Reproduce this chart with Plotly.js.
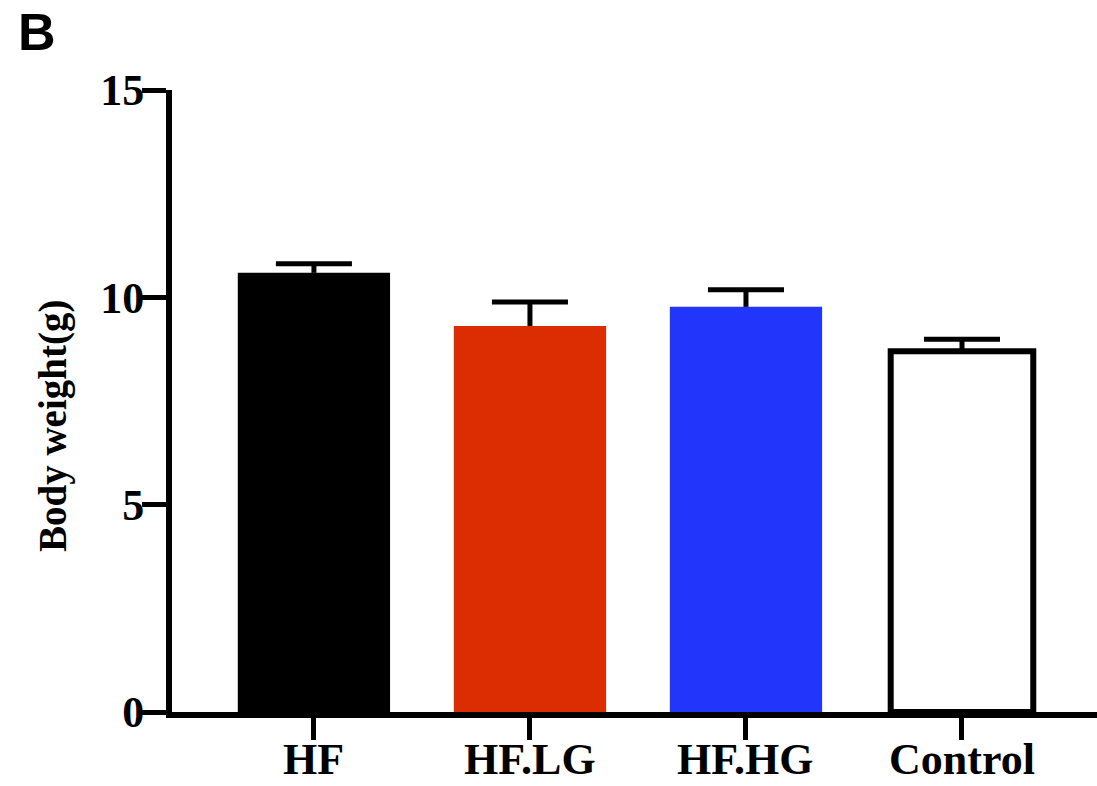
<!DOCTYPE html>
<html>
<head>
<meta charset="utf-8">
<script src="https://cdn.plot.ly/plotly-3.0.1.min.js"></script>
<style>
  html, body { margin: 0; padding: 0; background: #ffffff; }
  #chart { width: 1097px; height: 786px; }
</style>
</head>
<body>
<div id="chart"></div>
<script>
// ---- data ----
const categories = ['HF', 'HF.LG', 'HF.HG', 'Control'];
const meanWeight = [10.59, 9.31, 9.77, 8.70];
const semWeight = [0.22, 0.58, 0.41, 0.29];
const yTickValues = [0, 5, 10, 15];
const yTickLabels = ['0', '5', '10', '15'];

// ---- styles ----
const fillColors = ['#000000', '#dc2c02', '#2236fb', '#ffffff'];
const barWidths = [0.705, 0.705, 0.705, 0.66];
const outlineWidths = [0, 0, 0, 6];
const capHalf = 0.176; // half cap width in category units

const W = 1097, H = 786;
const M = { l: 172, r: 0, t: 90, b: 74 };
const plotW = W - M.l - M.r, plotH = H - M.t - M.b;
const px2x = px => (px - M.l) / plotW;
const px2y = py => (H - M.b - py) / plotH;

const xIdx = categories.map((c, i) => i);

const bars = {
  type: 'bar',
  x: xIdx,
  y: meanWeight,
  width: barWidths,
  marker: {
    color: fillColors,
    line: { color: '#000000', width: outlineWidths }
  },
  hoverinfo: 'none'
};

// upward-only SEM bars (stem + cap), built from the data
const ex = [], ey = [];
xIdx.forEach((xi, i) => {
  const top = meanWeight[i] + semWeight[i];
  ex.push(xi, xi, null, xi - capHalf, xi + capHalf, null);
  ey.push(meanWeight[i], top, null, top, top, null);
});
const errBars = {
  type: 'scatter', mode: 'lines',
  x: ex, y: ey,
  line: { color: '#000000', width: 5 },
  connectgaps: false,
  hoverinfo: 'none'
};

const serifBold = { family: 'Liberation Serif, Times New Roman, serif', color: '#000000', weight: 'bold' };

const xLabelAnn = categories.map((c, i) => ({
  text: c,
  xref: 'x', yref: 'paper',
  x: i, y: px2y(759),
  xanchor: 'center', yanchor: 'middle',
  showarrow: false,
  font: Object.assign({ size: 44 }, serifBold)
}));

const layout = {
  width: W, height: H,
  margin: M,
  paper_bgcolor: '#ffffff',
  plot_bgcolor: '#ffffff',
  showlegend: false,
  xaxis: {
    range: [-0.657, 3.625],
    tickmode: 'array',
    tickvals: xIdx,
    showticklabels: false,
    showline: true, linecolor: '#000000', linewidth: 6,
    ticks: 'outside', ticklen: 22, tickwidth: 5, tickcolor: '#000000',
    showgrid: false, zeroline: false,
    fixedrange: true
  },
  yaxis: {
    range: [0, 15],
    tickmode: 'array',
    tickvals: yTickValues,
    ticktext: yTickLabels,
    showline: true, linecolor: '#000000', linewidth: 6,
    ticks: 'outside', ticklen: 24, tickwidth: 5, tickcolor: '#000000',
    ticklabelstandoff: -11,
    showgrid: false, zeroline: false,
    tickfont: Object.assign({ size: 44 }, serifBold),
    fixedrange: true
  },
  annotations: xLabelAnn.concat([
    {
      text: 'Body weight(g)',
      xref: 'paper', yref: 'paper',
      x: px2x(53), y: px2y(426),
      xanchor: 'center', yanchor: 'middle',
      textangle: -90, showarrow: false,
      font: Object.assign({ size: 39 }, serifBold)
    },
    {
      text: 'B',
      xref: 'paper', yref: 'paper',
      x: px2x(16), y: px2y(1),
      xanchor: 'left', yanchor: 'top',
      showarrow: false,
      font: { family: 'Liberation Sans, Arial, sans-serif', size: 52, color: '#000000', weight: 'bold' }
    }
  ])
};

Plotly.newPlot('chart', [bars, errBars], layout, { displayModeBar: false, staticPlot: true });
</script>
</body>
</html>
